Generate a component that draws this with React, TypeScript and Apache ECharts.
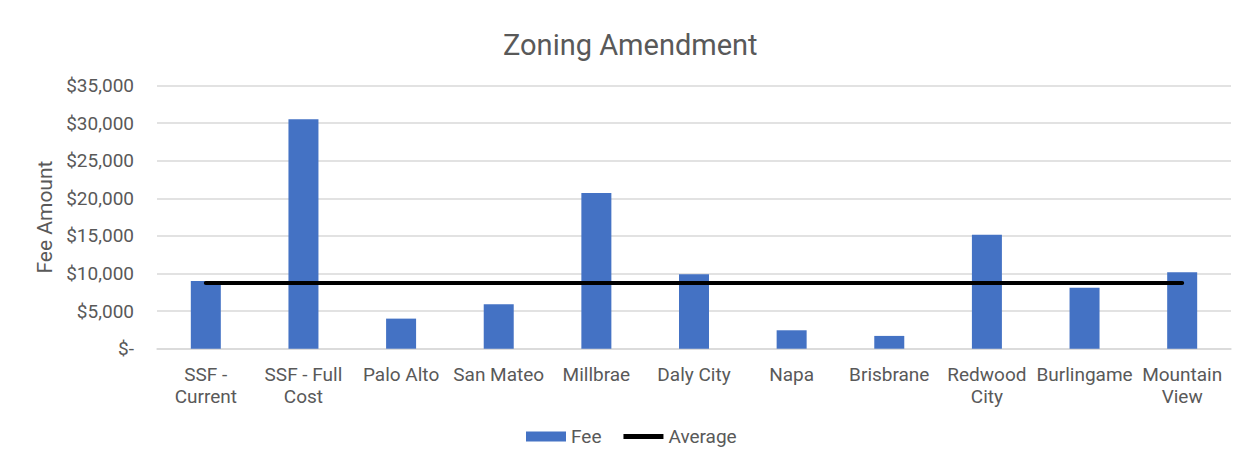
import React, { useEffect, useRef } from "react";
import * as echarts from "echarts";

const categories = [
  "SSF -\nCurrent",
  "SSF - Full\nCost",
  "Palo Alto",
  "San Mateo",
  "Millbrae",
  "Daly City",
  "Napa",
  "Brisbrane",
  "Redwood\nCity",
  "Burlingame",
  "Mountain\nView",
];
const feeValues = [9000, 30500, 4000, 5900, 20700, 9900, 2450, 1700, 15150, 8100, 10150];
const averageValues = [8750, 8750, 8750, 8750, 8750, 8750, 8750, 8750, 8750, 8750, 8750];
const yTicks = { min: 0, max: 35000, interval: 5000 };

const fmt = (v: number) =>
  v === 0 ? "$-" : "$" + v.toString().replace(/\B(?=(\d{3})+(?!\d))/g, ",");

export default function App() {
  const ref = useRef<HTMLDivElement>(null);
  useEffect(() => {
    if (!ref.current) return;
    const chart = echarts.init(ref.current, undefined, { renderer: "svg" });
    const textColor = "#595959";
    chart.setOption({
      animation: false,
      backgroundColor: "#ffffff",
      textStyle: { fontFamily: "Roboto" },
      title: {
        text: "Zoning Amendment",
        left: 498,
        top: 25,
        textStyle: { fontFamily: "Roboto", fontSize: 29, fontWeight: "normal", color: textColor },
      },
      legend: {
        bottom: 4,
        left: 521,
        itemGap: 22,
        itemWidth: 40,
        itemHeight: 10,
        symbolKeepAspect: true,
        textStyle: { fontFamily: "Roboto", fontSize: 19, color: textColor },
        data: [
          { name: "Fee", icon: "rect" },
          { name: "Average", icon: "path://M0 0H40V5H0Z", itemStyle: { color: "#000000" } },
        ],
      },
      grid: { left: 157, right: 18, top: 85.5, bottom: 106.3 },
      xAxis: {
        type: "category",
        data: categories,
        axisLine: { lineStyle: { color: "#d9d9d9", width: 1.5 } },
        axisTick: { show: false },
        axisLabel: {
          fontFamily: "Roboto",
          fontSize: 19,
          color: textColor,
          margin: 15,
          lineHeight: 22,
          interval: 0,
        },
      },
      yAxis: {
        type: "value",
        min: yTicks.min,
        max: yTicks.max,
        interval: yTicks.interval,
        name: "Fee Amount",
        nameLocation: "middle",
        nameGap: 101,
        nameTextStyle: { fontFamily: "Roboto", fontSize: 21, color: textColor },
        axisLine: { show: false },
        axisTick: { show: false },
        splitLine: { lineStyle: { color: "#d9d9d9", width: 1.5 } },
        axisLabel: {
          fontFamily: "Roboto",
          fontSize: 19,
          color: textColor,
          margin: 23,
          formatter: fmt,
        },
      },
      series: [
        {
          name: "Fee",
          type: "bar",
          data: feeValues,
          barWidth: 30,
          itemStyle: { color: "#4472C4" },
        },
        {
          name: "Average",
          type: "line",
          data: averageValues,
          symbol: "none",
          showSymbol: false,
          lineStyle: { color: "#000000", width: 4, cap: "round" },
          itemStyle: { color: "#000000" },
        },
      ],
    });
    return () => chart.dispose();
  }, []);
  return (
    <div
      ref={ref}
      style={{ position: "fixed", left: 0, top: 0, width: 1249, height: 455 }}
    />
  );
}
